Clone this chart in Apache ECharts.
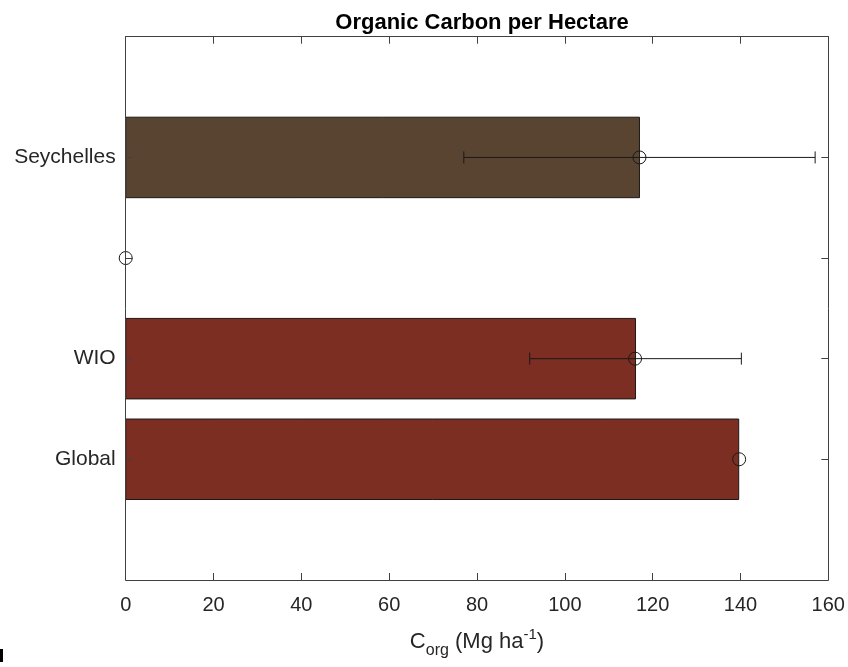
<!DOCTYPE html>
<html>
<head>
<meta charset="utf-8">
<title>Organic Carbon per Hectare</title>
<script src="https://cdn.jsdelivr.net/npm/echarts@6/dist/echarts.min.js"></script>
<style>
  html, body { margin: 0; padding: 0; background: #fff; }
  #chart { width: 848px; height: 667px; }
</style>
</head>
<body>
<div id="chart"></div>
<script>
// Row labels from bottom (position 1) to top (position 4)
const categories = ['Global', 'WIO', '', 'Seychelles'];
const positions = [1, 2, 3, 4];
// Bar lengths (Mg ha^-1); null = no bar in that row
const barValues = [139.6, 116.1, null, 117.0];
// Mean markers (circles)
const meanValues = [139.7, 116.0, 0, 117.0];
// Error bar extents; null = no error bar
const errLow = [null, 92.0, null, 77.0];
const errHigh = [null, 140.2, null, 157.0];
// X-axis ticks
const xTicks = [0, 20, 40, 60, 80, 100, 120, 140, 160];

const barColors = { 'Global': '#7b2e21', 'WIO': '#7b2e21', 'Seychelles': '#594431' };
const font = "'Liberation Sans', Arial, Helvetica, sans-serif";
const axisColor = '#404040';
const textColor = '#262626';

const barData = [];
const errData = [];
const meanData = [];
positions.forEach((p, i) => {
  if (barValues[i] !== null) barData.push({ value: [barValues[i], p], name: categories[i] });
  if (errLow[i] !== null) errData.push([errLow[i], errHigh[i], p]);
  meanData.push([meanValues[i], p]);
});

const chart = echarts.init(document.getElementById('chart'), null, { renderer: 'canvas' });

const yBase = {
  type: 'value',
  min: -0.2,
  max: 5.2,
  z: 10,
  splitLine: { show: false },
  axisLine: { show: true, onZero: false, lineStyle: { color: axisColor, width: 1 } },
  axisTick: { show: true, inside: true, length: 7, customValues: positions, lineStyle: { color: axisColor } }
};

const xBase = {
  type: 'value',
  min: xTicks[0],
  max: xTicks[xTicks.length - 1],
  interval: xTicks[1] - xTicks[0],
  z: 10,
  splitLine: { show: false },
  axisLine: { show: true, onZero: false, lineStyle: { color: axisColor, width: 1 } },
  axisTick: { show: true, inside: true, length: 7, lineStyle: { color: axisColor } }
};

const option = {
  animation: false,
  backgroundColor: '#ffffff',
  title: {
    text: 'Organic Carbon per Hectare',
    left: 477,
    top: 7,
    textAlign: 'center',
    textStyle: { fontFamily: font, fontSize: 22, fontWeight: 'bold', color: '#000' }
  },
  grid: { left: 125.7, right: 19.7, top: 36.7, bottom: 87, containLabel: false },
  xAxis: [
    Object.assign({}, xBase, {
      position: 'bottom',
      axisLabel: { show: true, margin: 15, fontFamily: font, fontSize: 20, color: textColor },
      name: '{m|C}{sub|org}{m| (Mg ha}{sup|-1}{m|)}',
      nameLocation: 'middle',
      nameGap: 45,
      nameTextStyle: {
        color: textColor,
        fontFamily: font,
        rich: {
          m: { fontSize: 22, fontFamily: font, color: textColor },
          sub: { fontSize: 16, fontFamily: font, color: textColor, padding: [18, 0, 0, 0] },
          sup: { fontSize: 15, fontFamily: font, color: textColor, padding: [0, 0, 14, 0] }
        }
      }
    }),
    Object.assign({}, xBase, { position: 'top', axisLabel: { show: false } })
  ],
  yAxis: [
    Object.assign({}, yBase, {
      position: 'left',
      axisLabel: {
        show: true,
        margin: 10,
        customValues: positions,
        fontFamily: font,
        fontSize: 21,
        color: textColor,
        formatter: (v) => categories[positions.indexOf(Math.round(v))] || ''
      }
    }),
    Object.assign({}, yBase, { position: 'right', axisLabel: { show: false } })
  ],
  series: [
    {
      type: 'custom',
      name: 'bars',
      xAxisIndex: 0,
      yAxisIndex: 0,
      z: 2,
      data: barData,
      renderItem: function (params, api) {
        const v = api.value(0);
        const y = api.value(1);
        const p0 = api.coord([0, y + 0.4]);
        const p1 = api.coord([v, y - 0.4]);
        const name = barData[params.dataIndex].name;
        return {
          type: 'rect',
          shape: { x: p0[0], y: p0[1], width: p1[0] - p0[0], height: p1[1] - p0[1] },
          style: { fill: barColors[name], stroke: '#1a1a1a', lineWidth: 1 }
        };
      }
    },
    {
      type: 'custom',
      name: 'errors',
      xAxisIndex: 0,
      yAxisIndex: 0,
      z: 3,
      data: errData,
      renderItem: function (params, api) {
        const lo = api.coord([api.value(0), api.value(2)]);
        const hi = api.coord([api.value(1), api.value(2)]);
        const cap = 6;
        const ls = { stroke: '#1a1a1a', lineWidth: 1 };
        return {
          type: 'group',
          children: [
            { type: 'line', shape: { x1: lo[0], y1: lo[1], x2: hi[0], y2: hi[1] }, style: ls },
            { type: 'line', shape: { x1: lo[0], y1: lo[1] - cap, x2: lo[0], y2: lo[1] + cap }, style: ls },
            { type: 'line', shape: { x1: hi[0], y1: hi[1] - cap, x2: hi[0], y2: hi[1] + cap }, style: ls }
          ]
        };
      }
    },
    {
      type: 'scatter',
      name: 'means',
      xAxisIndex: 0,
      yAxisIndex: 0,
      z: 4,
      symbol: 'circle',
      symbolSize: 13,
      itemStyle: { color: 'rgba(0,0,0,0)', borderColor: '#1a1a1a', borderWidth: 1, opacity: 1 },
      data: meanData
    }
  ],
  graphic: [
    { type: 'rect', left: 0, top: 649, shape: { width: 3, height: 13 }, style: { fill: '#000' } }
  ]
};

chart.setOption(option);
</script>
</body>
</html>
